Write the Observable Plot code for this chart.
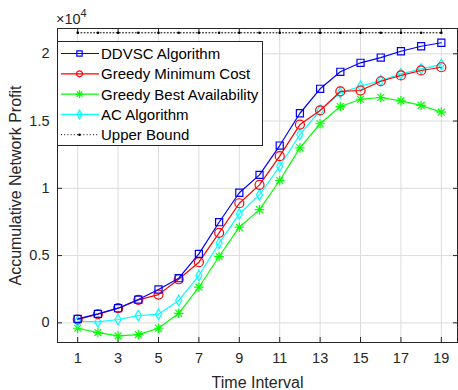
<!DOCTYPE html>
<html>
<head>
<meta charset="utf-8">
<script src="https://cdn.jsdelivr.net/npm/d3@7"></script>
<script src="https://cdn.jsdelivr.net/npm/@observablehq/plot@0.6"></script>
<style>
  html, body { margin: 0; padding: 0; background: white; }
  #chart svg { display: block; }
</style>
</head>
<body>
<div id="chart"></div>
<script>
const timeIntervals = [1,2,3,4,5,6,7,8,9,10,11,12,13,14,15,16,17,18,19];
const ddvsc      = [300, 670, 1090, 1730, 2480, 3320, 5130, 7480, 9670, 11000, 13180, 15580, 17400, 18660, 19330, 19720, 20190, 20560, 20820];
const greedyMin  = [250, 640, 1090, 1710, 2100, 3240, 4510, 6690, 8890, 10260, 12390, 14740, 15790, 17200, 17270, 17960, 18390, 18760, 19000];
const greedyBest = [-400, -720, -970, -870, -400, 710, 2650, 4930, 7110, 8420, 10580, 13010, 14800, 16080, 16620, 16750, 16500, 16160, 15660];
const acAlg      = [120, 70, 250, 540, 640, 1660, 3520, 5920, 8100, 9520, 11640, 14000, 15790, 17100, 17590, 18010, 18510, 18880, 19200];
const upperBound = [21560, 21560, 21560, 21560, 21560, 21560, 21560, 21560, 21560, 21560, 21560, 21560, 21560, 21560, 21560, 21560, 21560, 21560, 21560];
const xTickValues = [1,3,5,7,9,11,13,15,17,19];
const yTickValues = [0, 5000, 10000, 15000, 20000];
const yTickLabels = ["0", "0.5", "1", "1.5", "2"];
const seriesNames = ["DDVSC Algorithm", "Greedy Minimum Cost", "Greedy Best Availability", "AC Algorithm", "Upper Bound"];
const seriesColors = ["#0000ff", "#ff0000", "#00ff00", "#00ffff", "#000000"];

const toRows = (vals) => timeIntervals.map((t, i) => ({t, v: vals[i]}));
const dd = toRows(ddvsc), gm = toRows(greedyMin), gb = toRows(greedyBest), ac = toRows(acAlg), ub = toRows(upperBound);

const axisColor = "#262626";
const font = "'Liberation Sans', Arial, Helvetica, sans-serif";

const chart = Plot.plot({
  width: 458, height: 390,
  marginLeft: 57, marginRight: 1, marginTop: 28, marginBottom: 48,
  style: {fontFamily: font, fontSize: "14px", color: axisColor, background: "white", overflow: "visible"},
  x: {domain: [0, 19.8]},
  y: {domain: [-1460, 21880]},
  marks: [
    Plot.gridX(xTickValues, {stroke: "#dcdcdc", strokeOpacity: 1}),
    Plot.gridY(yTickValues, {stroke: "#dcdcdc", strokeOpacity: 1}),
    Plot.axisX(xTickValues, {anchor: "bottom", tickSize: 0, tickPadding: 10, fontSize: 14.5, label: null}),
    Plot.axisX([], {anchor: "bottom", tickSize: 0, fontSize: 16,
      label: "Time Interval", labelAnchor: "center", labelArrow: "none", labelOffset: 45}),
    Plot.axisX(xTickValues, {anchor: "bottom", tickSize: -5, tickFormat: () => "", label: null}),
    Plot.axisX(xTickValues, {anchor: "top", tickSize: -5, tickFormat: () => "", label: null}),
    Plot.axisY(yTickValues, {anchor: "left", tickSize: 0, tickPadding: 8, fontSize: 14.5,
      tickFormat: (d) => yTickLabels[yTickValues.indexOf(d)], label: null}),
    Plot.axisY([], {anchor: "left", tickSize: 0, fontSize: 16,
      label: "Accumulative Network Profit", labelAnchor: "center", labelArrow: "none", labelOffset: 48}),
    Plot.axisY(yTickValues, {anchor: "left", tickSize: -5, tickFormat: () => "", label: null}),
    Plot.axisY(yTickValues, {anchor: "right", tickSize: -5, tickFormat: () => "", label: null}),
    // upper bound
    Plot.line(ub, {x: "t", y: "v", stroke: "#000", strokeWidth: 1, strokeDasharray: "1,2.2"}),
    Plot.dot(ub, {x: "t", y: "v", r: 1.3, fill: "#000", stroke: null}),
    // green
    Plot.line(gb, {x: "t", y: "v", stroke: seriesColors[2], strokeWidth: 1.2}),
    Plot.dot(gb, {x: "t", y: "v", symbol: "plus", r: 3.2, stroke: seriesColors[2], strokeWidth: 1.2}),
    Plot.dot(gb, {x: "t", y: "v", symbol: "times", r: 3.2, stroke: seriesColors[2], strokeWidth: 1.2}),
    // cyan
    Plot.line(ac, {x: "t", y: "v", stroke: seriesColors[3], strokeWidth: 1.2}),
    Plot.dot(ac, {x: "t", y: "v", symbol: "diamond", r: 3.2, stroke: seriesColors[3], strokeWidth: 1.2, fill: "none"}),
    // red
    Plot.line(gm, {x: "t", y: "v", stroke: seriesColors[1], strokeWidth: 1.2}),
    Plot.dot(gm, {x: "t", y: "v", symbol: "circle", r: 4.5, stroke: seriesColors[1], strokeWidth: 1.2, fill: "none"}),
    // blue
    Plot.line(dd, {x: "t", y: "v", stroke: seriesColors[0], strokeWidth: 1.2}),
    Plot.dot(dd, {x: "t", y: "v", symbol: "square", r: 4, stroke: seriesColors[0], strokeWidth: 1.2, fill: "none"}),
    Plot.frame({stroke: axisColor, strokeWidth: 1})
  ]
});

document.getElementById("chart").appendChild(chart);

const svg = d3.select(chart);
// exponent label
const expText = svg.append("text").attr("x", 56).attr("y", 23.5).attr("text-anchor", "start")
  .attr("font-family", font).attr("font-size", 14.5).attr("fill", axisColor);
expText.append("tspan").text("×10");
expText.append("tspan").attr("dy", -7).attr("font-size", 11).text("4");

// legend
const lg = svg.append("g").attr("text-anchor", "start");
const lx = 57, ly = 41, lw = 205, lh = 104;
lg.append("rect").attr("x", lx + 0.5).attr("y", ly + 0.5).attr("width", lw).attr("height", lh)
  .attr("fill", "white").attr("stroke", axisColor).attr("stroke-width", 1);
const symSpecs = [
  [{type: d3.symbolSquare, r: 3}],
  [{type: d3.symbolCircle, r: 3}],
  [{type: d3.symbolPlus, r: 2.6}, {type: d3.symbolTimes, r: 2.6}],
  [{type: d3.symbolDiamond, r: 2.6}],
  null
];
seriesNames.forEach((name, i) => {
  const yy = ly + 12.5 + i * 20.3;
  const line = lg.append("line").attr("x1", lx + 4).attr("x2", lx + 42).attr("y1", yy).attr("y2", yy)
    .attr("stroke", seriesColors[i]).attr("stroke-width", i === 4 ? 1 : 1.2);
  if (i === 4) {
    line.attr("stroke-dasharray", "1,2.2");
    lg.append("circle").attr("cx", lx + 22.5).attr("cy", yy).attr("r", 1.3).attr("fill", "#000");
  } else {
    symSpecs[i].forEach(s => {
      lg.append("path").attr("d", d3.symbol(s.type, Math.PI * s.r * s.r)())
        .attr("transform", `translate(${lx + 22.5},${yy})`)
        .attr("fill", "none").attr("stroke", seriesColors[i]).attr("stroke-width", 1.2);
    });
  }
  lg.append("text").attr("x", lx + 44).attr("y", yy).attr("dy", "0.36em").attr("text-anchor", "start")
    .attr("font-family", font).attr("font-size", 15).attr("fill", "#000").text(name);
});
</script>
</body>
</html>
